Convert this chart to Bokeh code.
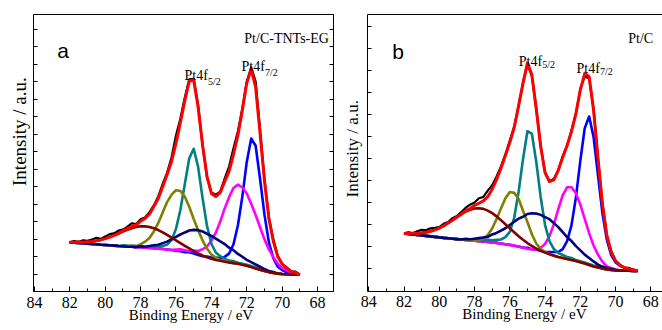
import numpy as np
from bokeh.plotting import figure
from bokeh.models import Range1d, FixedTicker, LinearAxis, Label, CustomJSTickFormatter
from bokeh.layouts import row
from bokeh.embed import file_html
from bokeh.resources import INLINE

# Binding-energy sampling (eV), from high to low
energy_a = np.linspace(82.0, 69.0, 53)
energy_b = np.linspace(82.0, 68.75, 54)

# ---- Pt/C-TNTs-EG: Shirley background and fitted components (height above background) ----
background_a = [49.7, 49.4, 49.0, 48.7, 48.3, 48.0, 47.7, 47.3, 47.0, 46.7,
                46.4, 46.0, 45.7, 45.4, 45.2, 44.9, 44.7, 44.3, 44.0, 43.7,
                43.3, 42.9, 42.4, 41.9, 41.3, 40.6, 39.7, 38.6, 37.3, 36.0,
                34.7, 33.4, 32.3, 31.4, 30.7, 30.0, 29.3, 28.7, 28.0, 27.1,
                26.0, 24.7, 23.3, 22.0, 20.7, 19.6, 18.7, 18.1, 17.7, 17.5,
                17.3, 17.1, 17.0]
pt0_72_a = [0, 0, 0, 0, 0, 0, 0, 0, 0, 0, 0, 0, 0, 0, 0, 0, 0, 0, 0, 0,
            0, 0, 0, 0, 0, 0, 0, 1, 1, 1, 1, 2, 2, 3, 3, 5, 9, 19, 39, 69,
            105, 130, 124, 92, 57, 30, 15, 7, 4, 2, 1, 1, 0]
pt2_72_a = [0, 0, 0, 0, 0, 0, 0, 0, 0, 0, 0, 0, 0, 0, 0, 0, 0, 0, 0, 0,
            0, 0, 0, 0, 1, 2, 2, 2, 4, 5, 8, 12, 19, 28, 40, 54, 66, 76, 80, 78,
            73, 64, 54, 43, 32, 23, 16, 10, 6, 4, 2, 1, 0]
pt0_52_a = [0, 0, 0, 0, 0, 0, 0, 0, 0, 0, 0, 0, 1, 1, 1, 1, 1, 1, 1, 2,
            2, 3, 5, 10, 22, 42, 69, 96, 107, 90, 60, 33, 16, 8, 5, 3, 2, 2, 1, 1,
            1, 1, 1, 0, 0, 0, 0, 0, 0, 0, 0, 0, 0]
pt2_52_a = [0, 0, 0, 0, 0, 0, 0, 0, 0, 0, 0, 0, 0, 0, 1, 1, 3, 6, 10, 17,
            26, 37, 48, 56, 61, 61, 56, 47, 36, 26, 17, 10, 5, 3, 1, 1, 0, 0, 0, 0,
            0, 0, 0, 0, 0, 0, 0, 0, 0, 0, 0, 0, 0]
broad_746_a = [0, 0, 0, 0, 0, 0, 0, 0, 0, 0, 0, 0, 0, 0, 0, 0, 1, 1, 2, 3,
               4, 6, 8, 11, 14, 17, 20, 23, 25, 26, 26, 25, 24, 22, 20, 18, 15, 13, 10, 8,
               6, 5, 4, 3, 2, 1, 1, 0, 0, 0, 0, 0, 0]
broad_778_a = [0, 0.5, 1, 1, 2, 2.5, 3.6, 4.9, 6.5, 8.3,
               10.4, 12.6, 14.8, 16.9, 18.8, 20.3, 21.2, 21.5, 21.2, 20.3,
               18.8, 16.9, 14.8, 12.6, 10.4, 8.3, 6.5, 4.9, 3.6, 2.5,
               1.7, 1.2, 0.8, 0.5, 0.3, 0, 0, 0, 0, 0,
               0, 0, 0, 0, 0, 0, 0, 0, 0, 0, 0, 0, 0]
# measured spectrum minus fitted envelope
residual_a = [0, 1, 0, 2, 1, 2, 3, 1, 2, 3, 2, 3, 1, 2, 3, 1, 2, 1, 2, 1,
              2, 3, 2, 4, 8, 4, 3, 2, 1, 2, 0, -1, 1, 2, 1, 3, 5, 6, 4, 2,
              1, 2, 6, 4, 2, 1, 2, 1, 0, 1, 0, 1, 0]

# ---- Pt/C ----
background_b = [57.3, 56.8, 56.3, 55.8, 55.3, 54.8, 54.3, 53.8, 53.3, 52.8,
                52.4, 52.0, 51.6, 51.2, 50.8, 50.4, 50.0, 49.6, 49.2, 48.8,
                48.3, 47.8, 47.2, 46.5, 45.8, 45.0, 44.1, 43.0, 41.8, 40.5,
                39.2, 37.9, 36.7, 35.6, 34.6, 33.6, 32.6, 31.6, 30.6, 29.5,
                28.3, 27.0, 25.6, 24.2, 23.0, 22.0, 21.2, 20.6, 20.2, 20.0,
                19.9, 19.8, 19.7, 19.7]
pt0_72_b = [0, 0, 0, 0, 0, 0, 0, 0, 0, 0, 0, 0, 0, 0, 0, 0, 0, 0, 0, 0,
            0, 0, 0, 0, 0, 0, 0, 0, 1, 1, 2, 2, 2, 3, 4, 5, 9, 18, 35, 64,
            102, 136, 149, 130, 93, 56, 30, 15, 8, 5, 3, 2, 1, 0]
pt2_72_b = [0, 0, 0, 0, 0, 0, 0, 0, 0, 0, 0, 0, 0, 0, 0, 0, 0, 0, 0, 0,
            0, 0, 0, 0, 0, 0, 0, 0, 0, 1, 2, 5, 10, 19, 32, 48, 63, 72, 73, 68,
            58, 45, 32, 21, 13, 7, 3, 2, 1, 0, 0, 0, 0, 0]
pt0_52_b = [0, 0, 0, 0, 0, 0, 0, 0, 0, 0, 0, 0, 0, 0, 0, 0, 1, 1, 1, 2,
            2, 3, 4, 7, 13, 28, 55, 89, 118, 117, 90, 56, 29, 14, 7, 4, 3, 2, 2, 1,
            1, 1, 1, 1, 1, 0, 0, 0, 0, 0, 0, 0, 0, 0]
pt2_52_b = [0, 0, 0, 0, 0, 0, 0, 0, 0, 0, 0, 0, 0, 0, 0, 0, 0, 1, 3, 7,
            14, 24, 35, 46, 53, 53, 48, 37, 27, 16, 8, 4, 2, 1, 0, 0, 0, 0, 0, 0,
            0, 0, 0, 0, 0, 0, 0, 0, 0, 0, 0, 0, 0, 0]
broad_746_b = [0, 0, 0, 0, 0, 0, 0, 0, 0, 0, 0, 0, 0, 0, 1, 1, 2, 3, 4, 5,
               8, 10, 13, 16, 20, 24, 28, 31, 35, 37, 38, 38, 37, 36, 33, 30, 26, 22, 19, 15,
               12, 9, 7, 5, 3, 2, 1.5, 1, 0.5, 0, 0, 0, 0, 0]
broad_778_b = [0, 0.7, 1.1, 1.7, 2.5, 3.6, 5.1, 7.0, 9.4, 12.1,
               15.3, 18.6, 22.1, 25.4, 28.3, 30.7, 32.3, 33.0, 32.7, 31.4,
               29.4, 26.6, 23.4, 20.0, 16.6, 13.4, 10.4, 7.9, 5.8, 4.2,
               2.9, 1.9, 1.3, 0.8, 0.5, 0, 0, 0, 0, 0,
               0, 0, 0, 0, 0, 0, 0, 0, 0, 0, 0, 0, 0, 0]
residual_b = [0, 1, 0, 2, 3, 2, 3, 2, 1, 2, 1, 2, 1, 2, 3, 4, 3, 5, 4, 6,
              4, 3, 2, 1, 2, 1, 0, 1, -2, -1, 1, 0, 1, 0, 1, 0, 1, 0, 1, 0,
              1, -3, -2, 1, 0, 1, 0, 1, 0, 1, 0, 1, 0, 0]

x_ticks = [84, 82, 80, 78, 76, 74, 72, 70, 68]
x_minor = [83, 81, 79, 77, 75, 73, 71, 69, 67]
y_ticks_a = [17.5, 35.2, 52.9, 70.6, 88.3, 106.0, 123.7, 141.4, 159.1,
             176.8, 194.5, 212.2, 229.9, 247.6, 265.3]
y_ticks_b = [21.7, 43.8, 65.9, 88.1, 110.1, 132.2, 154.3, 176.4, 198.5,
             220.6, 242.7, 264.8]

COLORS = ["#0000FF", "#FF00FF", "#008080", "#808000", "#000080", "#800000"]
SERIF = "Liberation Serif"
SANS = "Liberation Sans"
NBSP = "\u00a0"


def blank():
    return CustomJSTickFormatter(code="return ''")


def make_panel(energy, background, components, residual, width, height, borders,
               x_span, y_span, y_ticks, right_axis, x_title, y_title, y_title_size,
               tick_standoff, x_title_standoff, y_title_standoff):
    left, right, top, bottom = borders
    p = figure(width=width, height=height,
               x_range=Range1d(*x_span), y_range=Range1d(*y_span),
               output_backend="svg", toolbar_location=None,
               min_border_left=left, min_border_right=right,
               min_border_top=top, min_border_bottom=bottom)
    p.xgrid.visible = False
    p.ygrid.visible = False
    p.background_fill_color = "white"
    p.border_fill_color = "white"
    p.outline_line_color = "black" if right_axis else None

    xa = p.xaxis[0]
    xa.ticker = FixedTicker(ticks=x_ticks, minor_ticks=x_minor)
    xa.major_tick_in, xa.major_tick_out = 5, 0
    xa.minor_tick_in, xa.minor_tick_out = 3, 0
    xa.axis_line_color = "black"
    xa.major_tick_line_color = "black"
    xa.minor_tick_line_color = "black"
    xa.major_label_text_font = SERIF
    xa.major_label_text_font_size = "16px"
    xa.major_label_text_color = "black"
    xa.major_label_standoff = tick_standoff
    xa.axis_label = x_title
    xa.axis_label_text_font = SERIF
    xa.axis_label_text_font_size = "15px"
    xa.axis_label_text_font_style = "normal"
    xa.axis_label_text_color = "black"
    xa.axis_label_standoff = x_title_standoff

    ya = p.yaxis[0]
    ya.ticker = FixedTicker(ticks=y_ticks, minor_ticks=[])
    ya.formatter = blank()
    ya.major_tick_in, ya.major_tick_out = 4, 0
    ya.minor_tick_in, ya.minor_tick_out = 0, 0
    ya.axis_line_color = "black"
    ya.major_label_standoff = 0
    ya.axis_label = y_title
    ya.axis_label_text_font = SERIF
    ya.axis_label_text_font_size = y_title_size
    ya.axis_label_text_font_style = "normal"
    ya.axis_label_text_color = "black"
    ya.axis_label_standoff = y_title_standoff

    if right_axis:
        ra = LinearAxis(ticker=FixedTicker(ticks=y_ticks, minor_ticks=[]),
                        formatter=blank(), major_tick_in=4, major_tick_out=0,
                        minor_tick_in=0, minor_tick_out=0, major_label_standoff=0,
                        axis_line_color="black")
        p.add_layout(ra, "right")
    else:
        ta = LinearAxis(ticker=FixedTicker(ticks=[], minor_ticks=[]),
                        formatter=blank(), major_tick_in=0, major_tick_out=0,
                        minor_tick_in=0, minor_tick_out=0, major_label_standoff=0,
                        major_label_text_font_size="0px", axis_line_color="black")
        p.add_layout(ta, "above")

    bg = np.array(background, dtype=float)
    envelope = bg.copy()
    for comp in components:
        envelope = envelope + np.array(comp, dtype=float)
    for comp, color in zip(components, COLORS):
        p.line(energy, bg + np.array(comp, dtype=float), line_color=color,
               line_width=2.6, line_join="round")
    p.line(energy, envelope + np.array(residual, dtype=float), line_color="black",
           line_width=2.2, line_join="round")
    p.line(energy, envelope, line_color="#FF0000", line_width=3, line_join="round")
    return p


def add_text(p, x, y, text, size, font=SERIF, align="left"):
    p.add_layout(Label(x=x, y=y, text=text, text_font=font, text_font_size=size,
                       text_align=align, text_baseline="alphabetic",
                       text_color="black"))


pa = make_panel(energy_a, background_a,
                [pt0_72_a, pt2_72_a, pt0_52_a, pt2_52_a, broad_746_a, broad_778_a],
                residual_a, 335, 330, (33, 2, 14, 36), (84.05, 67.1), (0, 280),
                y_ticks_a, True,
                NBSP * 4 + "Binding Energy / eV", NBSP * 9 + "Intensity / a.u.", "19px",
                5, -4, 4)
add_text(pa, 82.71, 244, "a", "21px", font=SANS)
add_text(pa, 67.36, 255.7, "Pt/C-TNTs-EG", "14px", align="right")
add_text(pa, 75.52, 218, "Pt4f", "14px")
add_text(pa, 74.19, 212, "5/2", "10px")
add_text(pa, 72.30, 227, "Pt4f", "14px")
add_text(pa, 70.97, 221, "7/2", "10px")

pb = make_panel(energy_b, background_b,
                [pt0_72_b, pt2_72_b, pt0_52_b, pt2_52_b, broad_746_b, broad_778_b],
                residual_b, 327, 330, (32, 0, 13, 39), (84.07, 67.34), (-1, 277),
                y_ticks_b, False,
                NBSP * 5 + "Binding Energy / eV", NBSP * 2 + "Intensity / a.u.", "17px",
                4, -4, 6)
add_text(pb, 82.67, 240, "b", "21px", font=SANS)
add_text(pb, 67.87, 253.3, "Pt/C", "14px", align="right")
add_text(pb, 75.49, 230, "Pt4f", "14px")
add_text(pb, 74.16, 226.7, "5/2", "10px")
add_text(pb, 72.22, 223.3, "Pt4f", "14px")
add_text(pb, 70.88, 220, "7/2", "10px")

layout = row(pa, pb)
open("out.html", "w").write(file_html(layout, INLINE))
